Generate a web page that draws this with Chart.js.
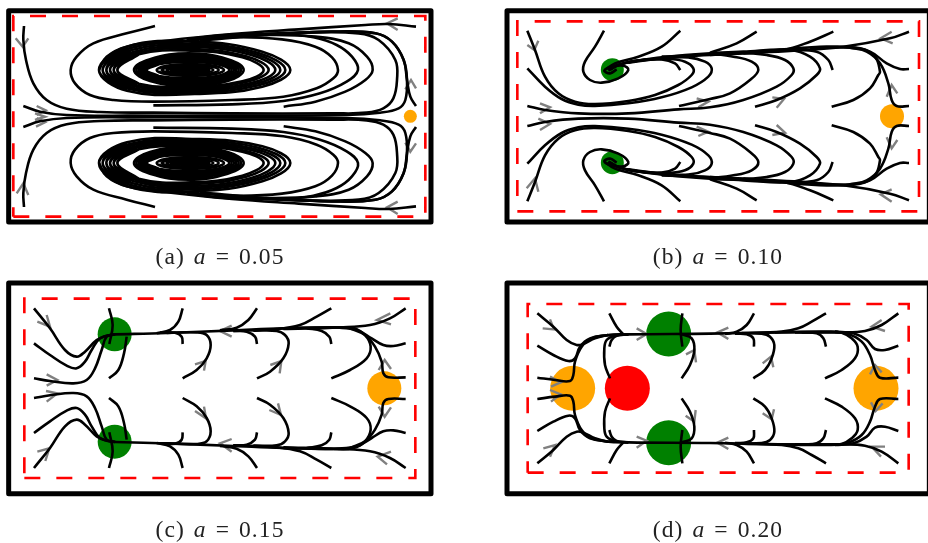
<!DOCTYPE html>
<html>
<head>
<meta charset="utf-8">
<script src="https://cdn.jsdelivr.net/npm/chart.js@4"></script>
<style>
html,body{margin:0;padding:0;background:#fff;width:928px;height:543px;overflow:hidden}
canvas{position:absolute;display:block}
.cap{position:absolute;width:300px;text-align:center;font-family:"Liberation Serif",serif;font-size:23.5px;line-height:26px;color:#222;word-spacing:2px;letter-spacing:1.1px}
.cap i{font-style:italic}
</style>
</head>
<body>
<canvas id="pa" width="464" height="272" style="left:0;top:0"></canvas>
<canvas id="pb" width="464" height="272" style="left:464px;top:0"></canvas>
<canvas id="pc" width="464" height="271" style="left:0;top:272px"></canvas>
<canvas id="pd" width="464" height="271" style="left:464px;top:272px"></canvas>
<div class="cap" style="left:70px;top:243px">(a) <i>a</i> = 0.05</div>
<div class="cap" style="left:568px;top:243px">(b) <i>a</i> = 0.10</div>
<div class="cap" style="left:70px;top:516px">(c) <i>a</i> = 0.15</div>
<div class="cap" style="left:568px;top:516px">(d) <i>a</i> = 0.20</div>
<script>
// Panel (a), a = 0.05
const aFrame=[26,32,1293,32,1293,666,26,666,26,32];
const aBox=[40,650,1276,650,1276,48,40,48,40,650];
const aOrange=[[1231,349]];
const aGreen=[];
const aRed=[];
const aLines=[
[72,78,70,120,78,180,100,250,140,300,200,326,300,336,460,338,696,340,1000,340,1100,338,1150,325,1180,295,1191,240,1186,180,1136,120,1076,100,900,98,796,102],
[72,621,70,579,78,519,100,449,140,399,200,373,300,363,460,361,696,359,1000,359,1100,361,1150,374,1180,404,1191,459,1186,519,1136,579,1076,599,900,601,796,597],
[70,318,120,335,200,345,400,347,696,347,1040,345,1140,338,1196,325,1216,300,1221,240,1211,180,1176,125,1126,100,996,95,796,105],
[70,381,120,364,200,354,400,352,696,352,1040,354,1140,361,1196,374,1216,399,1221,459,1211,519,1176,574,1126,599,996,604,796,594],
[1248,318,1231,290,1221,240,1211,180,1176,125,1126,100,996,95,796,105,600,122],
[1248,381,1231,409,1221,459,1211,519,1176,574,1126,599,996,604,796,594,600,577],
[1248,80,1166,72,1096,75,896,88,696,102,500,122,380,140,320,170,297,210],
[1248,619,1166,627,1096,624,896,611,696,597,500,577,380,559,320,529,297,489],
[465,78,380,100,280,130,230,170,212,210,225,250,270,285,340,300,460,305,696,300,850,290,950,265,1000,235,1014,210,996,172,946,140,846,118,696,112,560,122],
[465,621,380,599,280,569,230,529,212,489,225,449,270,414,340,399,460,394,696,399,850,409,950,434,1000,464,1014,489,996,527,946,559,846,581,696,587,560,577],
[460,316,696,313,850,303,960,280,1040,245,1074,210,1056,170,1010,135,940,112,846,102,696,104,560,118],
[460,383,696,386,850,396,960,419,1040,454,1074,489,1056,529,1010,564,940,587,846,597,696,595,560,581],
[851,320,946,305,1036,275,1096,240,1118,210,1101,170,1046,130,946,110,796,105,660,108],
[851,379,946,394,1036,424,1096,459,1118,489,1101,529,1046,569,946,589,796,594,660,591],
[297,210,381,140,584,125,787,155,871,210,787,260,584,282,381,272,297,210],
[308,210,389,145,582,131,775,159,856,210,775,256,582,277,389,267,308,210],
[319,210,395,150,580,136,765,162,841,210,765,252,580,272,395,263,319,210],
[330,210,402,155,578,141,754,165,826,210,754,249,578,268,402,259,330,210],
[341,210,409,159,574,147,738,169,806,210,738,246,574,264,409,256,341,210],
[352,210,416,163,571,152,727,172,791,210,727,244,571,260,416,251,352,210],
[402,210,450,178,566,160,683,178,731,210,683,243,566,258,450,243,402,210],
[409,210,455,181,566,165,677,181,723,210,677,240,566,254,455,240,409,210],
[416,210,460,184,566,170,672,184,716,210,672,238,566,250,460,238,416,210],
[422,210,464,186,565,174,667,186,709,210,667,236,565,246,464,236,422,210],
[428,210,468,188,565,178,662,188,702,210,662,234,565,243,468,234,428,210],
[434,210,472,190,564,182,657,190,695,210,657,231,564,238,472,231,434,210],
[440,210,476,193,564,186,652,193,688,210,652,228,564,234,476,228,440,210],
[470,210,500,197,570,192,642,197,672,210,642,223,570,228,500,223,470,210],
[485,210,515,199,570,195,626,199,656,210,626,221,570,225,515,221,485,210],
[500,210,530,201,570,198,610,201,640,210,610,219,570,222,530,219,500,210],
[520,210,570,203,620,210,570,217,520,210],
[510,206,630,206],[510,214,630,214],
[535,210,605,210],
[297,489,381,559,584,574,787,544,871,489,787,439,584,417,381,427,297,489],
[308,489,389,554,582,568,775,540,856,489,775,443,582,422,389,432,308,489],
[319,489,395,549,580,563,765,537,841,489,765,447,580,427,395,436,319,489],
[330,489,402,544,578,558,754,534,826,489,754,450,578,431,402,440,330,489],
[341,489,409,540,574,552,738,530,806,489,738,453,574,435,409,443,341,489],
[352,489,416,536,571,547,727,527,791,489,727,455,571,439,416,448,352,489],
[402,489,450,521,566,539,683,521,731,489,683,456,566,441,450,456,402,489],
[409,489,455,518,566,534,677,518,723,489,677,459,566,445,455,459,409,489],
[416,489,460,515,566,529,672,515,716,489,672,461,566,449,460,461,416,489],
[422,489,464,513,565,525,667,513,709,489,667,463,565,453,464,463,422,489],
[428,489,468,511,565,521,662,511,702,489,662,465,565,456,468,465,428,489],
[434,489,472,509,564,517,657,509,695,489,657,468,564,461,472,468,434,489],
[440,489,476,506,564,513,652,506,688,489,652,471,564,465,476,471,440,489],
[470,489,500,502,570,507,642,502,672,489,642,476,570,471,500,476,470,489],
[485,489,515,500,570,504,626,500,656,489,626,478,570,474,515,478,485,489],
[500,489,530,498,570,501,610,498,640,489,610,480,570,477,530,480,500,489],
[520,489,570,496,620,489,570,482,520,489],
[510,493,630,493],[510,485,630,485],
[535,489,605,489]
];
const aArrows=[
[47,115,68,140,85,115],[110,318,137,331,110,345],[105,340,135,350,105,360],[110,354,135,367,108,380],
[1193,55,1161,70,1193,90],[1216,268,1233,240,1248,265],[1216,428,1231,455,1248,430],
[1193,605,1161,622,1193,642],[50,580,70,550,85,585]
];

// Panel (b), a = 0.10
const bFrame=[36,32,1303,32,1303,666,36,666,36,32];
const bBox=[67,634,1272,634,1272,64,67,64,67,634];
const bOrange=[[1191,349]];
const bGreen=[[352,209],[352,488]];
const bRed=[];
const bLines=[
[97,92,120,150,150,230,190,280,240,305,300,312,400,303,480,285,550,255,590,225,595,205,570,185,520,177,450,180,380,192,345,208],
[97,205,150,260,200,297,250,314,300,318,400,310,500,292,590,262,640,230,650,205,630,185,580,172,500,175,420,182,370,195,345,210],
[97,604,120,546,150,466,190,416,240,391,300,384,400,393,480,411,550,441,590,471,595,491,570,511,520,519,450,516,380,504,345,488],
[97,491,150,436,200,399,250,382,300,378,400,386,500,404,590,434,640,466,650,491,630,511,580,524,500,521,420,514,370,501,345,486],
[327,92,300,140,270,185,265,215,285,240,320,248,370,235,400,210,385,197,350,200,328,212,345,220,365,208],
[327,604,300,556,270,511,265,481,285,456,320,448,370,461,400,486,385,499,350,496,328,484,345,476,365,488],
[556,92,500,140,430,170,360,190,330,210],
[556,604,500,556,430,526,360,506,330,486],
[556,210,540,190,500,178,420,183,360,198,340,212],
[556,486,540,506,500,518,420,513,360,498,340,484],
[552,318,645,297,705,280,765,240,790,210,770,185,715,170,645,163,500,175,400,188],
[552,378,645,399,705,416,765,456,790,486,770,511,715,526,645,533,500,521,400,508],
[97,318,150,330,250,340,400,340,550,328,645,322,745,300,845,260,890,225,895,205,870,180,815,165,725,158,645,160,500,172,400,186],
[97,378,150,366,250,356,400,356,550,368,645,374,745,396,845,436,890,471,895,491,870,516,815,531,725,538,645,536,500,524,400,510],
[780,320,845,300,915,265,965,225,975,205,945,170,885,150,745,155,645,160],
[780,376,845,396,915,431,965,471,975,491,945,526,885,546,745,541,645,536],
[1013,210,1000,180,965,155,895,150,745,158,645,162],
[1013,486,1000,516,965,541,895,546,745,538,645,534],
[1010,320,1075,300,1125,265,1150,225,1155,215,1140,170,1095,145,995,140,845,150,645,165,500,170],
[1010,376,1075,396,1125,431,1150,471,1155,481,1140,526,1095,551,995,556,845,546,645,531,500,526],
[1242,95,1185,115,1045,140,895,152,745,160,645,165],
[1242,601,1185,581,1045,556,895,544,745,536,645,531],
[1015,95,945,125,865,150,745,160],
[1015,601,945,571,865,546,745,536],
[785,95,725,130,645,158],
[785,601,725,566,645,538],
[1242,207,1215,207,1175,190,1125,155,1065,143,945,145],
[1242,489,1215,489,1175,506,1125,541,1065,553,945,551],
[1242,318,1205,318,1190,300,1180,250,1155,190,1115,155,1065,143],
[1242,378,1205,378,1190,396,1180,446,1155,506,1115,541,1065,553]
];
const bArrows=[
[97,135,118,150,130,122],[95,565,120,535,130,575],[135,310,165,322,135,340],[130,356,165,372,135,390],
[605,295,640,305,610,322],[605,380,640,395,610,408],[832,292,867,297,845,323],[845,375,870,398,832,405],
[1175,290,1190,255,1207,280],[1175,412,1190,445,1207,420],[1190,95,1157,115,1193,130],[1190,568,1157,583,1190,605]
];

// Panel (c), a = 0.15
const cFrame=[26,24,1293,24,1293,656,26,656,26,24];
const cBox=[73,609,1246,609,1246,71,73,71,73,609];
const cOrange=[[1153,340]];
const cGreen=[[344,178],[344,500]];
const cRed=[];
const cLines=[
[102,100,150,160,195,225,230,245,255,230,290,195,320,182,345,178],
[102,205,150,240,200,272,230,280,255,260,275,225,300,190,345,178],
[102,310,150,318,220,325,260,315,285,280,305,225,320,185,345,178],
[327,100,338,150,328,207],
[327,310,355,285,372,235,380,185],
[548,100,535,140,510,165,470,175],
[548,207,545,185,525,173,480,173],
[548,310,590,285,620,250,632,210,620,180,590,172,500,174],
[771,100,745,135,710,158,660,166],
[771,207,765,185,740,170,700,168],
[771,310,810,290,850,250,866,205,855,180,830,168,760,167],
[994,100,950,125,900,150,830,162,700,168],
[994,207,988,185,965,168,920,160],
[994,310,1050,285,1100,250,1112,215,1095,180,1060,160,1000,157,850,160],
[1217,100,1170,130,1110,150,1020,157,850,162],
[1217,205,1180,213,1150,210,1115,190,1070,165,1000,157],
[1217,307,1165,307,1150,295,1145,260,1125,215,1095,180,1050,160],
[1000,157,850,160,700,166,500,174,345,178],
[102,579,150,519,195,454,230,434,255,449,290,484,320,497,345,501],
[102,474,150,439,200,407,230,399,255,419,275,454,300,489,345,501],
[102,369,150,361,220,354,260,364,285,399,305,454,320,494,345,501],
[327,579,338,529,328,472],
[327,369,355,394,372,444,380,494],
[548,579,535,539,510,514,470,504],
[548,472,545,494,525,506,480,506],
[548,369,590,394,620,429,632,469,620,499,590,507,500,505],
[771,579,745,544,710,521,660,513],
[771,472,765,494,740,509,700,511],
[771,369,810,389,850,429,866,474,855,499,830,511,760,512],
[994,579,950,554,900,529,830,517,700,511],
[994,472,988,494,965,511,920,519],
[994,369,1050,394,1100,429,1112,464,1095,499,1060,519,1000,522,850,519],
[1217,579,1170,549,1110,529,1020,522,850,517],
[1217,474,1180,466,1150,469,1115,489,1070,514,1000,522],
[1217,372,1165,372,1150,384,1145,419,1125,464,1095,499,1050,519],
[1000,522,850,519,700,513,500,505,345,501]
];
const cArrows=[
[112,140,150,155,140,120],[140,298,172,315,140,332],[138,348,172,355,140,380],[112,530,148,520,136,558],
[695,152,660,168,695,185],[695,492,660,505,695,530],[585,268,617,258,612,287],[585,408,618,430,612,395],
[811,270,844,258,839,295],[808,405,843,420,834,385],[1171,115,1131,135,1173,148],[1173,530,1133,545,1161,568],
[1136,285,1154,255,1173,282],[1136,395,1154,425,1173,397]
];

// Panel (d), a = 0.20
const dFrame=[36,24,1303,24,1303,656,36,656,36,24];
const dBox=[98,593,1241,593,1241,87,98,87,98,593];
const dOrange=[[233,340],[1143,340]];
const dGreen=[[521,177],[521,503]];
const dRed=[[397,340]];
const dLines=[
[127,115,175,155,215,195,245,210,265,207,300,190,340,180,400,178],
[127,212,175,240,220,258,240,250,255,215,285,190,340,180],
[127,308,180,315,225,318,235,300,240,260,260,215,290,190,340,180],
[343,115,365,155,385,178],
[343,215,350,195,365,182,400,178],
[345,310,330,270,328,220,335,195,360,182,400,178],
[562,115,557,165,562,215],
[560,310,585,270,598,225,590,190,560,178],
[777,115,755,150,725,170,690,177],
[777,215,775,190,755,178,720,176],
[775,310,810,285,830,250,838,210,825,185,800,176,720,175],
[993,115,950,140,910,160,860,170,740,174],
[993,215,985,190,965,175,920,172],
[990,310,1040,285,1080,250,1088,215,1070,190,1040,173,990,170,840,172],
[1210,115,1160,150,1110,168,1040,172,900,172],
[1210,212,1170,225,1140,222,1115,195,1075,175,1020,170],
[1210,308,1155,308,1140,285,1125,240,1100,200,1060,177,1020,171],
[1030,171,850,172,645,176,400,178,340,181],
[127,565,175,525,215,485,245,470,265,473,300,490,340,500,400,502],
[127,468,175,440,220,422,240,430,255,465,285,490,340,500],
[127,372,180,365,225,362,235,380,240,420,260,465,290,490,340,500],
[343,565,365,525,385,502],
[343,465,350,485,365,498,400,502],
[345,370,330,410,328,460,335,485,360,498,400,502],
[562,565,557,515,562,465],
[560,370,585,410,598,455,590,490,560,502],
[777,565,755,530,725,510,690,503],
[777,465,775,490,755,502,720,504],
[775,370,810,395,830,430,838,470,825,495,800,504,720,505],
[993,565,950,540,910,520,860,510,740,506],
[993,465,985,490,965,505,920,508],
[990,370,1040,395,1080,430,1088,465,1070,490,1040,507,990,510,840,508],
[1210,565,1160,530,1110,512,1040,508,900,508],
[1210,468,1170,455,1140,458,1115,485,1075,505,1020,510],
[1210,372,1155,372,1140,395,1125,440,1100,480,1060,503,1020,509],
[1030,509,850,508,645,504,400,502,340,499]
];
const dArrows=[
[143,160,177,163,165,133],[165,305,197,322,168,335],[165,345,197,358,168,380],[145,520,180,510,165,545],
[425,160,455,177,425,195],[425,485,455,497,425,518],[573,238,598,225,603,262],[572,422,598,440,602,405],
[700,158,667,172,700,192],[700,488,667,503,700,522],[803,265,828,245,835,277],[803,415,830,433,837,403],
[1160,135,1130,155,1170,168],[1170,515,1130,515,1158,545],[1125,298,1140,270,1160,292],[1128,382,1142,408,1163,385]
];

function pts(f){
  const o=[];for(let i=0;i<f.length;i+=2)o.push({x:f[i],y:f[i+1]});
  // closed rings: overlap the ends so the curve stays smooth where it closes
  if(o.length>3&&o[0].x===o[o.length-1].x&&o[0].y===o[o.length-1].y){
    o.unshift(o[o.length-2]);o.push(o[2]);
  }
  return o;
}
function plain(f){const o=[];for(let i=0;i<f.length;i+=2)o.push({x:f[i],y:f[i+1]});return o;}
function dots(list,color,r){return {data:list.map(p=>({x:p[0],y:p[1]})),showLine:false,pointRadius:r,pointBackgroundColor:color,pointBorderWidth:0,order:5};}
function panel(id,xr,yr,frame,box,lines,arrows,orange,green,red,r){
  const ds=[];
  lines.forEach(l=>ds.push({data:pts(l),showLine:true,borderColor:'#000',borderWidth:2.6,tension:0.4,pointRadius:0,order:1,borderCapStyle:'butt',borderJoinStyle:'round'}));
  arrows.forEach(l=>ds.push({data:plain(l),showLine:true,borderColor:'#808080',borderWidth:2.4,tension:0,pointRadius:0,order:2}));
  ds.push(dots(orange,'#FFA500',r[0]));
  ds.push(dots(green,'#008000',r[1]));
  ds.push(dots(red,'#FF0000',r[1]));
  ds.push({data:plain(box),showLine:true,borderColor:'#FF0000',borderWidth:2.6,borderDash:[16,16],tension:0,pointRadius:0,order:4});
  ds.push({data:plain(frame),showLine:true,borderColor:'#000',borderWidth:5,tension:0,pointRadius:0,order:3,borderJoinStyle:'round',borderCapStyle:'round'});
  new Chart(document.getElementById(id),{type:'scatter',data:{datasets:ds},options:{
    responsive:false,animation:false,devicePixelRatio:1,events:[],
    layout:{padding:0,autoPadding:false},
    plugins:{legend:{display:false},tooltip:{enabled:false},title:{display:false}},
    scales:{x:{type:'linear',display:false,min:xr[0],max:xr[1]},y:{type:'linear',display:false,reverse:true,min:yr[0],max:yr[1]}}
  }});
}
panel('pa',[0,1392],[0,816],aFrame,aBox,aLines,aArrows,aOrange,aGreen,aRed,[6.5,6.5]);
panel('pb',[-93,1299],[0,816],bFrame,bBox,bLines,bArrows,bOrange,bGreen,bRed,[12,11.5]);
panel('pc',[0,1392],[-9,804],cFrame,cBox,cLines,cArrows,cOrange,cGreen,cRed,[17,17]);
panel('pd',[-93,1299],[-9,804],dFrame,dBox,dLines,dArrows,dOrange,dGreen,dRed,[22.5,22.5]);
</script>
</body>
</html>
